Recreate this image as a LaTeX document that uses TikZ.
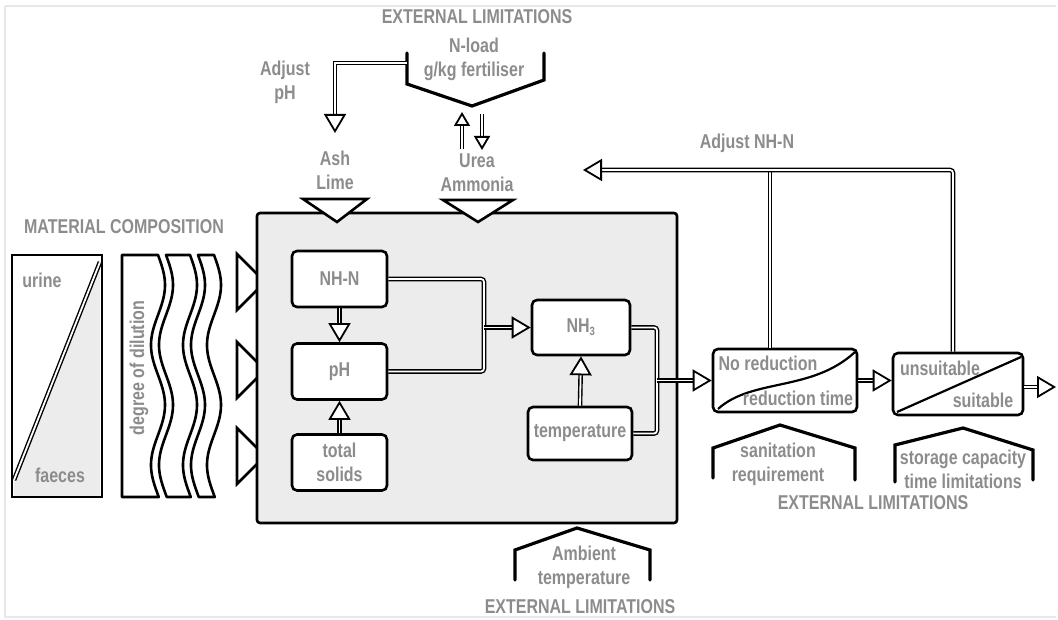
\documentclass[tikz,border=0pt]{standalone}
\usepackage{fontspec}
\setmainfont{Liberation Sans}[FakeStretch=0.8]
\usetikzlibrary{arrows.meta,calc}
\definecolor{txtgray}{RGB}{140,140,140}
\definecolor{boxgray}{RGB}{236,236,236}
\definecolor{framegray}{RGB}{232,232,232}
\tikzset{
  lbl/.style={font=\bfseries\fontsize{20}{24}\selectfont, text=txtgray, inner sep=0pt, align=center},
  heavy/.style={draw=black, line width=2.6pt},
  inbox/.style={heavy, fill=white, rounded corners=5pt, minimum width=95pt, minimum height=56pt, lbl},
  splitbox/.style={heavy, fill=white, rounded corners=5pt, inner sep=0pt},
  pipe/.style={draw=black, line width=1.4pt, double=white, double distance=1.8pt},
  hollowtip/.style={-{Triangle[open, fill=white, length=19pt, width=22pt, line width=1.8pt]}},
  smalltip/.style={-{Triangle[open, fill=white, length=14pt, width=16pt, line width=1.8pt]}},
  roof/.style={draw=black, line width=3.2pt, line cap=round, line join=miter},
  intri/.style={heavy, fill=white, line join=miter},
}
\begin{document}
\begin{tikzpicture}[x=1pt, y=-1pt]
\useasboundingbox (0,0) rectangle (1058,620);
\draw[framegray, line width=1.5pt] (5,6) -- (1056,6);
\draw[framegray, line width=1.5pt] (5,6) -- (5,617) -- (1056,617);

% ---------- material composition ----------
\node[lbl] (matcomp) at (124,227) {MATERIAL COMPOSITION};
\fill[boxgray] (14,482) -- (100,262) -- (100,496) -- (14,496) -- cycle;
\draw[heavy] (12,255) rectangle (102,497);
\draw[pipe] (14,480) -- (100,262);
\node[lbl] (urine) at (42,280) {urine};
\node[lbl] (faeces) at (60,475) {faeces};

% dilution box with wavy strips
\draw[heavy, fill=white, line join=round] (122,255) -- plot[domain=255:497, samples=50, smooth] ({158+7*sin(3*(\x-255))},{\x}) -- (122,497) -- cycle;
\draw[heavy, fill=white, line join=round] plot[domain=255:497, samples=50, smooth] ({166+7*sin(3*(\x-255))},{\x}) -- plot[domain=497:255, samples=50, smooth] ({190+7*sin(3*(\x-255))},{\x}) -- cycle;
\draw[heavy, fill=white, line join=round] plot[domain=255:497, samples=50, smooth] ({198+7*sin(3*(\x-255))},{\x}) -- plot[domain=497:255, samples=50, smooth] ({214+7*sin(3*(\x-255))},{\x}) -- cycle;
\node[lbl, rotate=90] (dilution) at (139,368) {degree of dilution};

% input triangles
\draw[intri] (237,254) -- (265,282) -- (237,310) -- cycle;
\draw[intri] (237,342) -- (265,370) -- (237,398) -- cycle;
\draw[intri] (237,428) -- (265,456) -- (237,484) -- cycle;

% ---------- main process box ----------
\draw[heavy, fill=boxgray, rounded corners=3pt] (257,213) rectangle (677,523);

% top triangles
\draw[intri] (303,199) -- (367,199) -- (337,222) -- cycle;
\draw[intri] (443,200) -- (513,200) -- (478,222) -- cycle;

\node[inbox] (nhn) at (339.5,279) {NH-N};
\node[inbox] (ph) at (339.5,371.5) {pH};
\node[inbox] (ts) at (339.5,462.5) {total\\solids};
\node[inbox, minimum width=98pt, minimum height=55pt] (nh3) at (581,327.5) {NH\textsubscript{\fontsize{12}{12}\selectfont 3}};
\node[inbox, minimum width=104pt, minimum height=53pt] (temp) at (580,433.5) {temperature};

% internal connectors
\draw[pipe, hollowtip] (nhn.south) -- (ph.north);
\draw[pipe, hollowtip] (ts.north) -- (ph.south);
\draw[pipe, hollowtip] (temp.north) -- (nh3.south);
\coordinate (j1) at (484,327.5);
\draw[pipe, rounded corners=3pt] (nhn.east) -| (j1) |- (ph.east);
\draw[pipe, hollowtip] (j1) -- (nh3.west);
\coordinate (j2) at (657,380.5);
\draw[pipe, rounded corners=3pt] (nh3.east) -| (j2) |- (temp.east);

% ---------- decision boxes ----------
\node[splitbox, minimum width=144pt, minimum height=63pt] (nr) at (785,380.5) {};
\draw[line width=2.2pt] (718,409) .. controls (752,378) and (812,392) .. (855,352);
\node[lbl] (nrtop) at (768,363) {No reduction};
\node[lbl] (nrbot) at (798,398) {reduction time};
\draw[pipe, hollowtip] (j2) -- (nr.west);

\node[splitbox, minimum width=130pt, minimum height=62pt] (us) at (958,384) {};
\draw[line width=2.2pt] (897,412) -- (1021,357);
\node[lbl] (ustop) at (940,368) {unsuitable};
\node[lbl] (usbot) at (983,400) {suitable};
\draw[pipe, hollowtip] (nr.east) -- (nr.east -| us.west);
\coordinate (outend) at (1056,387);
\draw[pipe, hollowtip] (us.east |- outend) -- (outend);

% feedback Adjust NH-N
\coordinate (fbtip) at (583,170);
\draw[pipe] ([xshift=-15pt]nr.north) -- ([xshift=-15pt]nr.north |- fbtip);
\draw[pipe, hollowtip, rounded corners=3pt] ([xshift=-5pt]us.north) |- (fbtip);
\node[lbl] (adjnhn) at (747,143) {Adjust NH-N};

% ---------- external limitations: top ----------
\node[lbl] (extop) at (477,17) {EXTERNAL LIMITATIONS};
\node[lbl] (nload) at (474,59) {N-load\\g/kg fertiliser};
\draw[roof] (407,53) -- (407,84) -- (472,106) -- (544,80) -- (544,53);
\coordinate (phpost) at (407,63);
\node[lbl] (adjph) at (285,82) {Adjust\\pH};
\node[lbl] (ashlime) at (335,170) {Ash\\Lime};
\node[lbl] (urea) at (477,173) {Urea\\Ammonia};
\draw[pipe, hollowtip] (phpost) -| (335,133);
\draw[pipe, smalltip] (462,149) -- (462,112);
\draw[pipe, smalltip] (482,114) -- (482,150);

% ---------- external limitations: right ----------
\draw[roof] (713,478) -- (713,448) -- (780,425) -- (855,448) -- (855,480);
\node[lbl] (sanit) at (778,464.5) {sanitation\\requirement};
\draw[roof] (895,482) -- (895,445) -- (963,428) -- (1033,450) -- (1033,480);
\node[lbl] (storage) at (963,469) {storage capacity\\time limitations};
\node[lbl] (exright) at (873,503) {EXTERNAL LIMITATIONS};

% ---------- external limitations: bottom ----------
\draw[roof] (515,580) -- (515,550) -- (577,528) -- (650,550) -- (650,580);
\node[lbl] (ambient) at (584,567.5) {Ambient\\temperature};
\node[lbl] (exbottom) at (580,607) {EXTERNAL LIMITATIONS};
\end{tikzpicture}
\end{document}
